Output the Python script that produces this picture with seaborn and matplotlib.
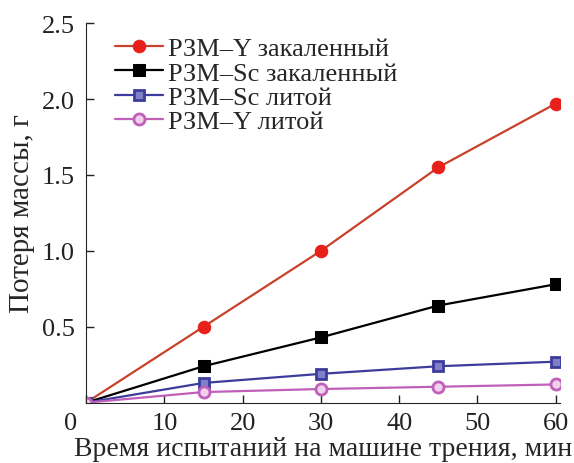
import matplotlib
matplotlib.use("Agg")
import matplotlib.pyplot as plt
import matplotlib.transforms as mtransforms
import seaborn as sns
import pandas as pd

sns.set_style("ticks")
plt.rcParams['font.family'] = ['Liberation Serif', 'DejaVu Serif']

# Время испытаний, мин
time_min = [0, 15, 30, 45, 60]

# Потеря массы, г
y_quenched = [0.0, 0.50, 1.00, 1.55, 1.97]
sc_quenched = [0.0, 0.24, 0.43, 0.64, 0.78]
sc_cast = [0.0, 0.13, 0.19, 0.24, 0.27]
y_cast = [0.0, 0.07, 0.09, 0.105, 0.12]

labels = ["РЗМ\u2013Y закаленный", "РЗМ\u2013Sc закаленный",
          "РЗМ\u2013Sc литой", "РЗМ\u2013Y литой"]
series = [y_quenched, sc_quenched, sc_cast, y_cast]

styles = [
    dict(color="#c8412a", marker="o", markerfacecolor="#e8201a", markeredgecolor="#e8201a", markersize=9),
    dict(color="black", marker="s", markerfacecolor="black", markeredgecolor="black", markersize=8),
    dict(color="#3c3c9c", marker="s", markerfacecolor="#8080c8", markeredgecolor="#3c3c9c", markersize=7, markeredgewidth=2),
    dict(color="#c060b8", marker="o", markerfacecolor="#f0d0ec", markeredgecolor="#c060b8", markersize=8, markeredgewidth=2),
]

fig, ax = plt.subplots(figsize=(5.74, 4.64), dpi=100)

for lab, vals, st in zip(labels, series, styles):
    df = pd.DataFrame({"t": time_min, "m": vals})
    sns.lineplot(data=df, x="t", y="m", ax=ax, label=lab, linewidth=1.6, **st)

ax.set_xlim(0, 60.5)
ax.set_ylim(0, 2.5)
ax.set_xticks([0, 10, 20, 30, 40, 50, 60])
ax.set_yticks([0.5, 1.0, 1.5, 2.0, 2.5])
ax.set_yticklabels(["0.5", "1.0", "1.5", "2.0", "2.5"])
ax.tick_params(direction="in", length=6, labelsize=19, width=1, colors="#222222")
ax.tick_params(axis="x", pad=7)
ax.tick_params(axis="y", pad=8)
ax.set_xlabel("Время испытаний на машине трения, мин", fontsize=20, labelpad=1)
ax.set_ylabel("Потеря массы, г", fontsize=21, labelpad=5)
sns.despine(ax=ax)

# подпись "0" сдвинута влево, как в оригинале
first = ax.get_xticklabels()[0]
first.set_transform(first.get_transform() + mtransforms.ScaledTranslation(-0.16, 0, fig.dpi_scale_trans))

ax.legend(loc="upper left", bbox_to_anchor=(0.0, 1.04), frameon=False, fontsize=19,
          handlelength=1.8, handletextpad=0.19, labelspacing=0.03, borderaxespad=0.8,
          borderpad=0.3)

plt.subplots_adjust(left=0.15, right=0.975, bottom=0.13, top=0.948)
plt.savefig("out.png", dpi=100)
plt.close()
